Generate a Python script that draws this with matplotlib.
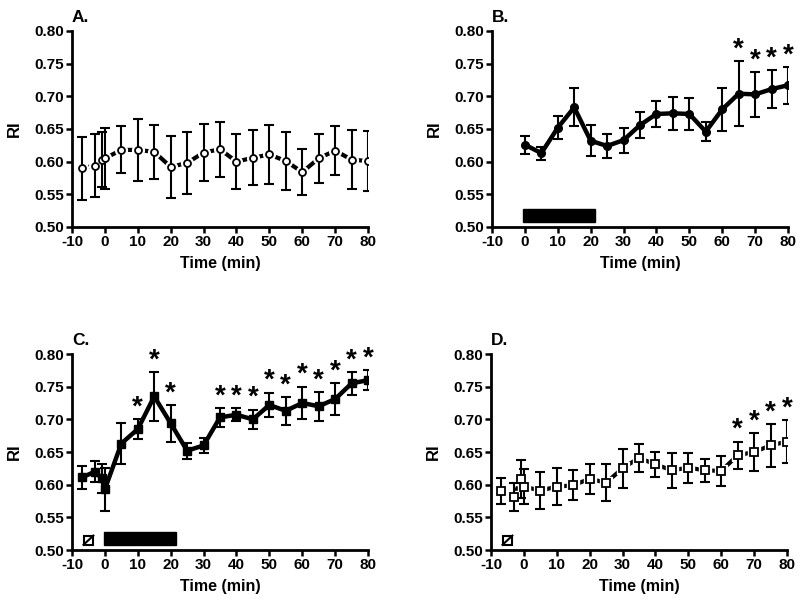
import numpy as np
import matplotlib
matplotlib.use("Agg")
import matplotlib.pyplot as plt
from matplotlib.patches import Rectangle

plt.rcParams['font.family'] = ['Liberation Sans', 'DejaVu Sans']
plt.rcParams['font.weight'] = 'bold'

# ---- data ----
t_pre = [-7, -3, -1, 0, 5, 10, 15, 20, 25, 30, 35, 40, 45, 50, 55, 60, 65, 70, 75, 80]
t_b = [0, 5, 10, 15, 20, 25, 30, 35, 40, 45, 50, 55, 60, 65, 70, 75, 80]

ri_a = [0.590, 0.594, 0.603, 0.605, 0.618, 0.618, 0.615, 0.592, 0.598, 0.614,
        0.619, 0.600, 0.606, 0.611, 0.601, 0.584, 0.605, 0.617, 0.603, 0.601]
err_a = [0.048, 0.048, 0.042, 0.047, 0.036, 0.048, 0.041, 0.047, 0.047, 0.044,
         0.042, 0.042, 0.042, 0.045, 0.045, 0.035, 0.037, 0.037, 0.045, 0.046]

ri_b = [0.626, 0.613, 0.652, 0.683, 0.632, 0.624, 0.633, 0.656, 0.673, 0.674,
        0.673, 0.646, 0.680, 0.704, 0.703, 0.711, 0.717]
err_b = [0.014, 0.010, 0.018, 0.029, 0.024, 0.019, 0.019, 0.020, 0.020, 0.025,
         0.024, 0.014, 0.033, 0.050, 0.034, 0.029, 0.028]
sig_b = [65, 70, 75, 80]

ri_c = [0.611, 0.620, 0.610, 0.593, 0.663, 0.685, 0.735, 0.694, 0.652, 0.660,
        0.703, 0.707, 0.700, 0.722, 0.713, 0.725, 0.720, 0.731, 0.755, 0.760]
err_c = [0.018, 0.016, 0.022, 0.033, 0.031, 0.015, 0.037, 0.028, 0.012, 0.012,
         0.014, 0.010, 0.015, 0.019, 0.021, 0.025, 0.022, 0.024, 0.017, 0.015]
sig_c = [10, 15, 20, 35, 40, 45, 50, 55, 60, 65, 70, 75, 80]

ri_d = [0.590, 0.581, 0.608, 0.597, 0.591, 0.597, 0.599, 0.609, 0.603, 0.625,
        0.641, 0.631, 0.622, 0.626, 0.622, 0.621, 0.645, 0.650, 0.660, 0.666]
err_d = [0.020, 0.021, 0.029, 0.027, 0.028, 0.028, 0.023, 0.023, 0.028, 0.030,
         0.021, 0.019, 0.027, 0.023, 0.018, 0.023, 0.021, 0.029, 0.033, 0.033]
sig_d = [65, 70, 75, 80]

xticks = np.arange(-10, 81, 10)
yticks = np.arange(0.50, 0.801, 0.05)

fig = plt.figure(figsize=(8, 6.03), dpi=100)
W, H = 800, 603


def make_ax(left, top, label):
    ax = fig.add_axes([left / W, (H - top - 196) / H, 296 / W, 196 / H])
    ax.set_xlim(-10, 80)
    ax.set_ylim(0.5, 0.8)
    ax.set_xticks(xticks)
    ax.set_xticklabels([str(v) for v in xticks])
    ax.set_yticks(yticks)
    ax.set_yticklabels(['%.2f' % v for v in yticks])
    for s in ['top', 'right']:
        ax.spines[s].set_visible(False)
    for s in ['left', 'bottom']:
        ax.spines[s].set_linewidth(2.0)
    ax.tick_params(width=1.8, length=4, labelsize=11, pad=1.5)
    for lab in ax.get_xticklabels() + ax.get_yticklabels():
        lab.set_fontweight('bold')
    ax.set_xlabel('Time (min)', fontsize=11.5, fontweight='bold', labelpad=5)
    ax.set_ylabel('RI', fontsize=12, fontweight='bold', labelpad=9)
    ax.text(0.0, 1.03, label, transform=ax.transAxes, fontsize=12.5,
            fontweight='bold', ha='left', va='bottom')
    return ax


def draw(ax, t, ri, err, marker, filled, sig=()):
    if filled:
        ax.plot(t, ri, color='black', lw=3.2, zorder=2)
        ax.errorbar(t, ri, yerr=err, fmt='none', ecolor='black', elinewidth=1.5,
                    capsize=3.8, capthick=1.5, zorder=3)
        ax.plot(t, ri, ls='none', marker=marker, ms=5.5, mfc='black',
                mec='black', zorder=4)
    else:
        ax.plot(t, ri, color='black', lw=3.0, zorder=1)
        ax.plot(t, ri, ls='none', marker=marker, ms=8.5, mfc='white',
                mec='white', zorder=2)
        ax.errorbar(t, ri, yerr=err, fmt='none', ecolor='black', elinewidth=1.5,
                    capsize=3.8, capthick=1.5, zorder=3)
        ax.plot(t, ri, ls='none', marker=marker,
                ms=5 if marker == 'o' else 6, mfc='white',
                mec='black', mew=1.3, zorder=4)
    for s in sig:
        i = list(t).index(s)
        ax.text(s, ri[i] + err[i] - 0.002, '*', ha='center', va='bottom',
                fontsize=20, fontweight='bold')


def bar(ax, x0, x1):
    ax.add_patch(Rectangle((x0, 0.508), x1 - x0, 0.019, facecolor='black',
                           edgecolor='black', zorder=2, clip_on=False))


def box(ax):
    ax.add_patch(Rectangle((-6.5, 0.508), 3, 0.014, facecolor='white',
                           edgecolor='black', lw=1.5, zorder=2))
    ax.plot([-6.5, -3.5], [0.508, 0.522], color='black', lw=1.5, zorder=3)


ax_a = make_ax(72, 31, 'A.')
draw(ax_a, t_pre, ri_a, err_a, 'o', False)

ax_b = make_ax(492, 31, 'B.')
draw(ax_b, t_b, ri_b, err_b, 'o', True, sig_b)
bar(ax_b, -0.6, 21.4)

ax_c = make_ax(72, 354, 'C.')
draw(ax_c, t_pre, ri_c, err_c, 's', True, sig_c)
bar(ax_c, -0.4, 21.7)
box(ax_c)

ax_d = make_ax(491, 354, 'D.')
draw(ax_d, t_pre, ri_d, err_d, 's', False, sig_d)
box(ax_d)

fig.savefig('out.png', dpi=100)
